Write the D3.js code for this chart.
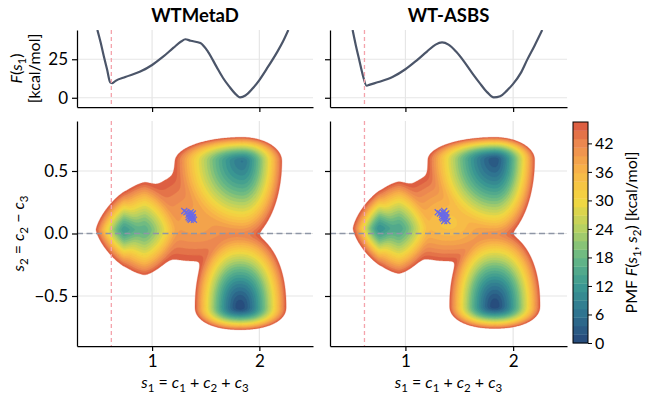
<!DOCTYPE html>
<html>
<head>
<meta charset="utf-8">
<script src="https://cdn.jsdelivr.net/npm/d3@7"></script>
<style>
  body { margin: 0; background: #fff; }
  text { font-family: Lato, "Noto Sans", sans-serif; white-space: pre; }
</style>
</head>
<body>
<div id="chart"></div>
<script>
// ---- data ----
const titles = ["WTMetaD", "WT-ASBS"]
const xTicks = [1, 2]
const mapYTicks = [-0.5, 0, 0.5]
const fesYTicks = [0, 25]
const cbarTicks = [0, 6, 12, 18, 24, 30, 36, 42]
const s1Ref = 0.62 // red dashed reference line

// 1D free energy F(s1) [kcal/mol]
const metaS1 = [0.49, 0.52, 0.55, 0.58, 0.61, 0.63, 0.66, 0.75, 0.89, 1.0, 1.1, 1.2, 1.27, 1.31, 1.36, 1.45, 1.52, 1.6, 1.66, 1.72, 1.77, 1.82, 1.87, 1.93, 2.0, 2.08, 2.16, 2.22, 2.27]
const metaF = [44, 36, 27, 18.5, 10, 9.5, 11, 13.5, 17, 21.3, 26.5, 32.5, 36.5, 38, 37, 35.5, 30, 20.2, 13, 7.2, 3, 0.3, 1.5, 5.5, 11.5, 20, 29, 36.5, 44]
const asbsS1 = [0.51, 0.54, 0.57, 0.6, 0.64, 0.67, 0.75, 0.88, 1.0, 1.1, 1.2, 1.28, 1.34, 1.4, 1.47, 1.55, 1.62, 1.69, 1.76, 1.82, 1.88, 1.94, 2.0, 2.07, 2.13, 2.2, 2.27]
const asbsF = [44, 34, 25, 16, 7.8, 8.5, 10.2, 13.5, 18.5, 24, 30, 34.5, 35.9, 34.5, 30, 23, 16, 9.5, 3.5, 0.2, 1, 4.5, 9, 16, 24.6, 34, 44]

// PMF basins: [s1, s2, depth, reach left, reach right, reach down, reach up, shape exponent]
const metaBasins = [
  [1.82, -0.59, 0, 0.42, 0.43, 0.18, 0.60, 2.2],   // lower
  [1.84, 0.58, 7, 0.62, 0.37, 0.62, 0.19, 2.0],    // upper
  [0.74, 0.03, 13, 0.25, 0.48, 0.27, 0.28, 1.3],   // left core
  [0.93, 0.03, 17, 0.44, 0.35, 0.36, 0.37, 1.5],   // left basin
  [1.40, 0.08, 38, 0.50, 0.50, 0.30, 0.40, 2.2]    // centre
]
const asbsBasins = [
  [1.83, -0.58, 0, 0.42, 0.42, 0.18, 0.60, 2.2],
  [1.83, 0.59, 2, 0.62, 0.37, 0.64, 0.18, 2.0],
  [0.76, 0.04, 11, 0.23, 0.48, 0.27, 0.28, 1.3],
  [0.94, 0.04, 15, 0.42, 0.35, 0.36, 0.37, 1.5],
  [1.40, 0.08, 33, 0.50, 0.50, 0.30, 0.40, 2.2]
]
const pmfTop = 46.5

// sampled transition states (s1, s2)
const metaMarks = [[1.30, 0.18], [1.32, 0.17], [1.34, 0.15], [1.35, 0.16], [1.36, 0.14], [1.37, 0.15], [1.35, 0.12], [1.37, 0.12], [1.38, 0.13], [1.36, 0.11], [1.39, 0.11], [1.34, 0.13], [1.38, 0.16], [1.36, 0.17]]
const asbsMarks = [[1.30, 0.17], [1.32, 0.16], [1.34, 0.15], [1.35, 0.17], [1.36, 0.14], [1.37, 0.15], [1.35, 0.12], [1.37, 0.12], [1.38, 0.13], [1.36, 0.10], [1.39, 0.10], [1.34, 0.13], [1.38, 0.16], [1.36, 0.18]]

// colormap stops
const cmapPos = [0, 6, 12, 18, 24, 30, 36, 42, 46.5]
const cmapColors = ["#26477a", "#2e7290", "#3b9892", "#67b886", "#b5d163", "#f3d840", "#f8b548", "#ec8850", "#d9553f"]
const nBands = 26

// ---- layout ----
const W = 647, H = 399
const cols = [{ x0: 77, x1: 313 }, { x0: 330, x1: 567 }]
const topBox = { y0: 30, y1: 107 }
const botBox = { y0: 121, y1: 346 }
const cb = { x0: 573, x1: 588, y0: 122, y1: 343 }

const svg = d3.select("#chart").append("svg").attr("width", W).attr("height", H)

const color = d3.scaleLinear().domain(cmapPos).range(cmapColors).interpolate(d3.interpolateRgb)
const levels = d3.range(nBands + 1).map((i) => (i * pmfTop) / nBands)

// soft minimum over basins, each rising as r^1.4 towards the cut-off level
function pmf(basins, x, y) {
  const T = 2.5
  let s = 0
  for (const [cx, cy, d, aL, aR, aD, aU, q] of basins) {
    const dx = x - cx, dy = y - cy
    const nu = Math.abs(dx / (dx < 0 ? aL : aR))
    const nv = Math.abs(dy / (dy < 0 ? aD : aU))
    const r = Math.pow(nu ** q + nv ** q, 1 / q)
    const f = d + (pmfTop - d) * Math.pow(r, 1.4)
    s += Math.exp(-f / T)
  }
  const F = s > 0 ? -T * Math.log(s) : 100
  return Math.min(F, 100)
}

// subscripted / italic labels
function mathText(sel, parts, size) {
  let shift = 0
  parts.forEach(([t, st]) => {
    const ts = sel.append("tspan").text(t)
    const target = st === "sub" ? size * 0.28 : 0
    if (target !== shift) ts.attr("dy", target - shift)
    shift = target
    if (st === "i") ts.attr("font-style", "italic")
    if (st === "sub") ts.attr("font-size", size * 0.72)
  })
}

function styleAxis(g) {
  g.select(".domain").attr("stroke", "#000").attr("stroke-width", 1.25)
  g.selectAll(".tick line").attr("stroke", "#000").attr("stroke-width", 1.2)
  g.selectAll(".tick text").attr("font-family", "Lato, sans-serif").attr("font-size", 17).attr("fill", "#000")
}

const panels = [
  { s1: metaS1, F: metaF, basins: metaBasins, marks: metaMarks },
  { s1: asbsS1, F: asbsF, basins: asbsBasins, marks: asbsMarks }
]

panels.forEach((p, k) => {
  const c = cols[k]
  const x = d3.scaleLinear().domain([0.3, 2.5]).range([c.x0, c.x1])
  const yTop = d3.scaleLinear().domain([-6, 44]).range([topBox.y1, topBox.y0])
  const yMap = d3.scaleLinear().domain([-0.9, 0.9]).range([botBox.y1, botBox.y0])

  // title
  svg.append("text").attr("x", (c.x0 + c.x1) / 2).attr("y", 22)
    .attr("text-anchor", "middle").attr("font-weight", "bold").attr("font-size", 18.5).text(titles[k])

  // ---------- top panel: F(s1) ----------
  const gt = svg.append("g")
  svg.append("clipPath").attr("id", "clipTop" + k).append("rect")
    .attr("x", c.x0).attr("y", topBox.y0).attr("width", c.x1 - c.x0).attr("height", topBox.y1 - topBox.y0)
  xTicks.forEach((t) => gt.append("line").attr("x1", x(t)).attr("x2", x(t)).attr("y1", topBox.y0).attr("y2", topBox.y1).attr("stroke", "#e6e6e6").attr("stroke-width", 1.2))
  fesYTicks.forEach((t) => gt.append("line").attr("x1", c.x0).attr("x2", c.x1).attr("y1", yTop(t)).attr("y2", yTop(t)).attr("stroke", "#e6e6e6").attr("stroke-width", 1.2))

  const line = d3.line().x((d, i) => x(p.s1[i])).y((d) => yTop(d)).curve(d3.curveMonotoneX)
  gt.append("path").datum(p.F).attr("clip-path", `url(#clipTop${k})`)
    .attr("d", line).attr("fill", "none").attr("stroke", "#4b5569").attr("stroke-width", 2.2)
  gt.append("line").attr("x1", x(s1Ref)).attr("x2", x(s1Ref)).attr("y1", topBox.y0).attr("y2", topBox.y1)
    .attr("stroke", "#f4a3ab").attr("stroke-width", 1.3).attr("stroke-dasharray", "4,3")

  const axTx = svg.append("g").attr("transform", `translate(0,${topBox.y1})`)
    .call(d3.axisBottom(x).tickValues(xTicks).tickSize(5).tickSizeOuter(0).tickFormat(""))
  styleAxis(axTx)
  const axTy = svg.append("g").attr("transform", `translate(${c.x0},0)`)
    .call(d3.axisLeft(yTop).tickValues(fesYTicks).tickSize(5).tickSizeOuter(0).tickPadding(4).tickFormat(k === 0 ? d3.format("d") : ""))
  styleAxis(axTy)

  // ---------- bottom panel: PMF map ----------
  const gb = svg.append("g")
  svg.append("clipPath").attr("id", "clipBot" + k).append("rect")
    .attr("x", c.x0).attr("y", botBox.y0).attr("width", c.x1 - c.x0).attr("height", botBox.y1 - botBox.y0)
  xTicks.forEach((t) => gb.append("line").attr("x1", x(t)).attr("x2", x(t)).attr("y1", botBox.y0).attr("y2", botBox.y1).attr("stroke", "#e6e6e6").attr("stroke-width", 1.2))
  mapYTicks.forEach((t) => gb.append("line").attr("x1", c.x0).attr("x2", c.x1).attr("y1", yMap(t)).attr("y2", yMap(t)).attr("stroke", "#e6e6e6").attr("stroke-width", 1.2))

  const gx0 = 0.3, gy0 = -0.9, step = 0.0075
  const nx = Math.round(2.2 / step) + 1, ny = Math.round(1.8 / step) + 1
  const vals = new Array(nx * ny)
  for (let j = 0; j < ny; j++)
    for (let i = 0; i < nx; i++) vals[j * nx + i] = -pmf(p.basins, gx0 + i * step, gy0 + j * step)

  const proj = d3.geoTransform({
    point: function (px, py) {
      this.stream.point(x(gx0 + (px - 0.5) * step), yMap(gy0 + (py - 0.5) * step))
    }
  })
  const path = d3.geoPath(proj)
  const bands = d3.contours().size([nx, ny]).thresholds(levels.slice(1).map((l) => -l).reverse())(vals)
  gb.append("g").attr("clip-path", `url(#clipBot${k})`)
    .selectAll("path").data(bands).join("path")
    .attr("d", path)
    .attr("fill", (d) => color(-d.value - pmfTop / nBands / 2))
    .attr("stroke", (d) => color(-d.value - pmfTop / nBands / 2))
    .attr("stroke-width", 0.3)

  gb.append("line").attr("x1", c.x0).attr("x2", c.x1).attr("y1", yMap(0)).attr("y2", yMap(0))
    .attr("stroke", "#8e96a6").attr("stroke-width", 1.5).attr("stroke-dasharray", "6,3.5")
  gb.append("line").attr("x1", x(s1Ref)).attr("x2", x(s1Ref)).attr("y1", botBox.y0).attr("y2", botBox.y1)
    .attr("stroke", "#f4a3ab").attr("stroke-width", 1.3).attr("stroke-dasharray", "4,3")

  gb.append("g").selectAll("path").data(p.marks).join("path")
    .attr("transform", (d) => `translate(${x(d[0])},${yMap(d[1])})`)
    .attr("d", "M-3,-3L3,3M-3,3L3,-3")
    .attr("stroke", "#6a6ae6").attr("stroke-width", 1.2)

  const axBx = svg.append("g").attr("transform", `translate(0,${botBox.y1})`)
    .call(d3.axisBottom(x).tickValues(xTicks).tickSize(5).tickSizeOuter(0).tickPadding(4).tickFormat(d3.format("d")))
  styleAxis(axBx)
  const axBy = svg.append("g").attr("transform", `translate(${c.x0},0)`)
    .call(d3.axisLeft(yMap).tickValues(mapYTicks).tickSize(5).tickSizeOuter(0).tickPadding(4).tickFormat(k === 0 ? d3.format(".1f") : ""))
  styleAxis(axBy)

  // x label
  const xl = svg.append("text").attr("x", (c.x0 + c.x1) / 2).attr("y", 388).attr("text-anchor", "middle").attr("font-size", 16)
  mathText(xl, [["s", "i"], ["1", "sub"], [" = ", ""], ["c", "i"], ["1", "sub"], [" + ", ""], ["c", "i"], ["2", "sub"], [" + ", ""], ["c", "i"], ["3", "sub"]], 16)
})

// y labels
const yl1 = svg.append("text").attr("transform", `translate(22,${(topBox.y0 + topBox.y1) / 2}) rotate(-90)`).attr("text-anchor", "middle").attr("font-size", 16)
mathText(yl1, [["F", "i"], ["(", ""], ["s", "i"], ["1", "sub"], [")", ""]], 16)
svg.append("text").attr("transform", `translate(40,${(topBox.y0 + topBox.y1) / 2}) rotate(-90)`).attr("text-anchor", "middle").attr("font-size", 16).text("[kcal/mol]")
const yl2 = svg.append("text").attr("transform", `translate(24,${(botBox.y0 + botBox.y1) / 2}) rotate(-90)`).attr("text-anchor", "middle").attr("font-size", 16)
mathText(yl2, [["s", "i"], ["2", "sub"], [" = ", ""], ["c", "i"], ["2", "sub"], [" − ", ""], ["c", "i"], ["3", "sub"]], 16)

// ---------- colorbar ----------
const cbY = d3.scaleLinear().domain([0, pmfTop]).range([cb.y1, cb.y0])
svg.append("g").selectAll("rect").data(d3.range(nBands)).join("rect")
  .attr("x", cb.x0).attr("width", cb.x1 - cb.x0)
  .attr("y", (i) => cbY(levels[i + 1])).attr("height", (i) => cbY(levels[i]) - cbY(levels[i + 1]) + 0.3)
  .attr("fill", (i) => color((levels[i] + levels[i + 1]) / 2))
svg.append("rect").attr("x", cb.x0).attr("y", cb.y0).attr("width", cb.x1 - cb.x0).attr("height", cb.y1 - cb.y0)
  .attr("fill", "none").attr("stroke", "#000").attr("stroke-width", 1)
const axC = svg.append("g").attr("transform", `translate(${cb.x1},0)`)
  .call(d3.axisRight(cbY).tickValues(cbarTicks).tickSize(4).tickSizeOuter(0).tickPadding(3))
axC.select(".domain").remove()
axC.selectAll(".tick line").attr("stroke", "#000")
axC.selectAll(".tick text").attr("font-family", "Lato, sans-serif").attr("font-size", 16).attr("fill", "#000")
const cl = svg.append("text").attr("transform", `translate(637,${(cb.y0 + cb.y1) / 2}) rotate(-90)`).attr("text-anchor", "middle").attr("font-size", 16)
mathText(cl, [["PMF ", ""], ["F", "i"], ["(", ""], ["s", "i"], ["1", "sub"], [", ", ""], ["s", "i"], ["2", "sub"], [") [kcal/mol]", ""]], 16)
</script>
</body>
</html>
